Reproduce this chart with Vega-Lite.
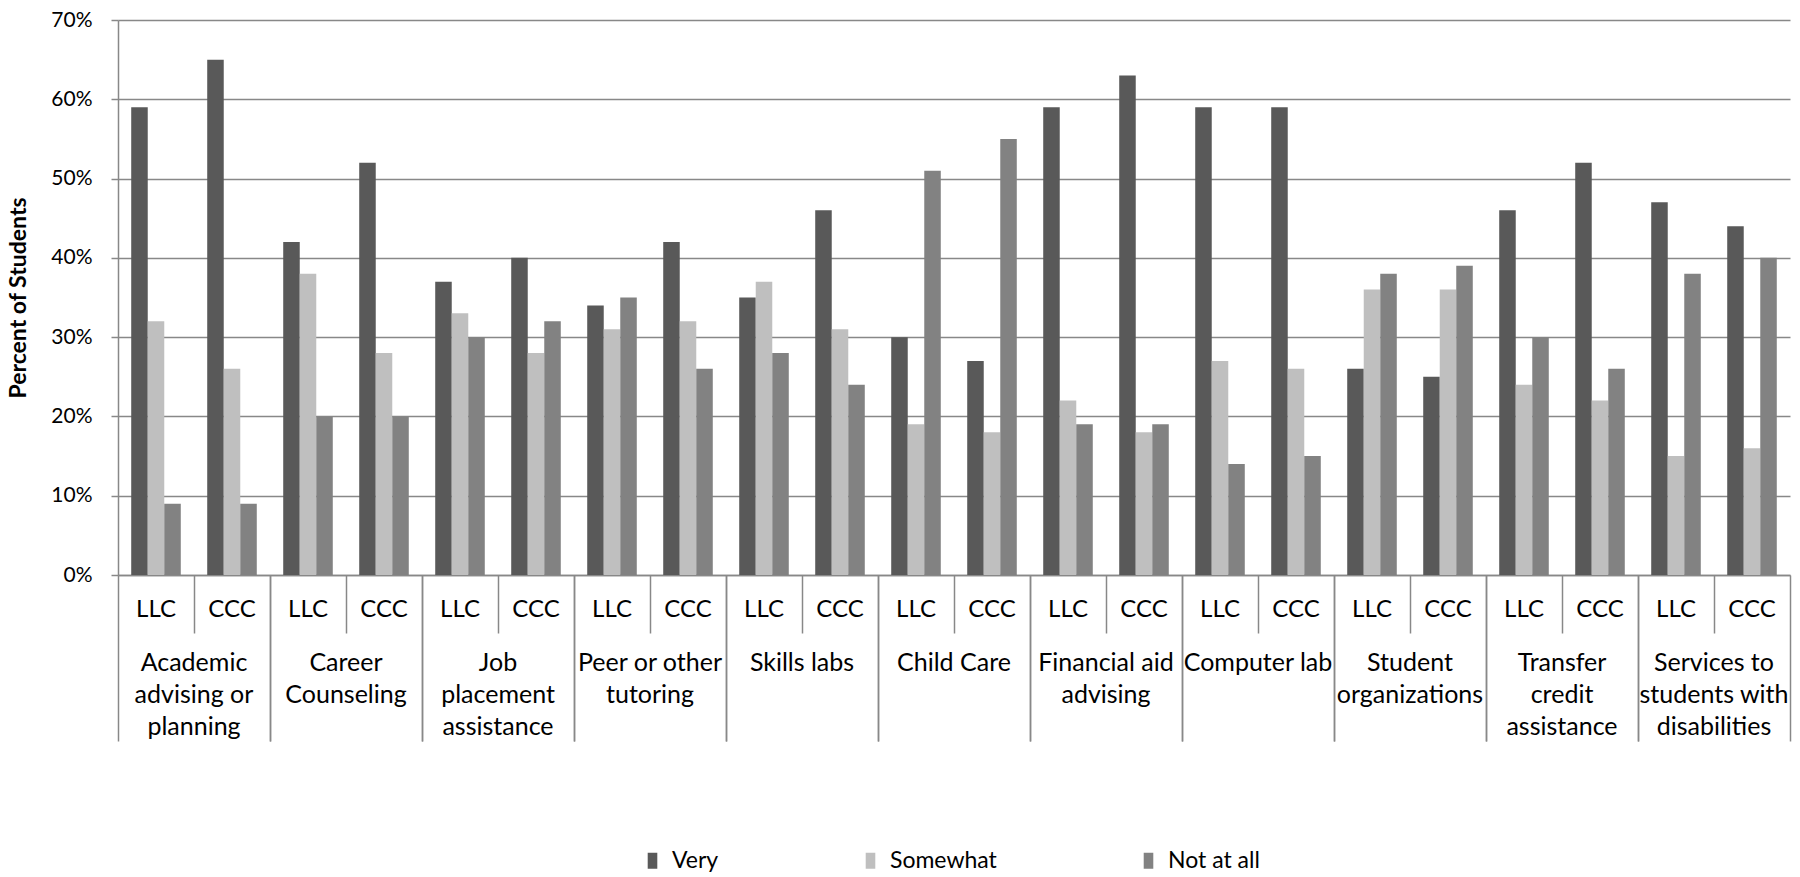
{
  "$schema": "https://vega.github.io/schema/vega-lite/v6.json",
  "width": 1672,
  "height": 555,
  "autosize": {"type": "none"},
  "padding": {"left": 118, "top": 20, "right": 10, "bottom": 302},
  "background": "white",
  "config": {"view": {"stroke": null}, "font": "Lato"},
  "data": {
    "values": [
      {"group": "Academic advising or planning|LLC", "response": "Very", "percent": 59},
      {"group": "Academic advising or planning|LLC", "response": "Somewhat", "percent": 32},
      {"group": "Academic advising or planning|LLC", "response": "Not at all", "percent": 9},
      {"group": "Academic advising or planning|CCC", "response": "Very", "percent": 65},
      {"group": "Academic advising or planning|CCC", "response": "Somewhat", "percent": 26},
      {"group": "Academic advising or planning|CCC", "response": "Not at all", "percent": 9},
      {"group": "Career Counseling|LLC", "response": "Very", "percent": 42},
      {"group": "Career Counseling|LLC", "response": "Somewhat", "percent": 38},
      {"group": "Career Counseling|LLC", "response": "Not at all", "percent": 20},
      {"group": "Career Counseling|CCC", "response": "Very", "percent": 52},
      {"group": "Career Counseling|CCC", "response": "Somewhat", "percent": 28},
      {"group": "Career Counseling|CCC", "response": "Not at all", "percent": 20},
      {"group": "Job placement assistance|LLC", "response": "Very", "percent": 37},
      {"group": "Job placement assistance|LLC", "response": "Somewhat", "percent": 33},
      {"group": "Job placement assistance|LLC", "response": "Not at all", "percent": 30},
      {"group": "Job placement assistance|CCC", "response": "Very", "percent": 40},
      {"group": "Job placement assistance|CCC", "response": "Somewhat", "percent": 28},
      {"group": "Job placement assistance|CCC", "response": "Not at all", "percent": 32},
      {"group": "Peer or other tutoring|LLC", "response": "Very", "percent": 34},
      {"group": "Peer or other tutoring|LLC", "response": "Somewhat", "percent": 31},
      {"group": "Peer or other tutoring|LLC", "response": "Not at all", "percent": 35},
      {"group": "Peer or other tutoring|CCC", "response": "Very", "percent": 42},
      {"group": "Peer or other tutoring|CCC", "response": "Somewhat", "percent": 32},
      {"group": "Peer or other tutoring|CCC", "response": "Not at all", "percent": 26},
      {"group": "Skills labs|LLC", "response": "Very", "percent": 35},
      {"group": "Skills labs|LLC", "response": "Somewhat", "percent": 37},
      {"group": "Skills labs|LLC", "response": "Not at all", "percent": 28},
      {"group": "Skills labs|CCC", "response": "Very", "percent": 46},
      {"group": "Skills labs|CCC", "response": "Somewhat", "percent": 31},
      {"group": "Skills labs|CCC", "response": "Not at all", "percent": 24},
      {"group": "Child Care|LLC", "response": "Very", "percent": 30},
      {"group": "Child Care|LLC", "response": "Somewhat", "percent": 19},
      {"group": "Child Care|LLC", "response": "Not at all", "percent": 51},
      {"group": "Child Care|CCC", "response": "Very", "percent": 27},
      {"group": "Child Care|CCC", "response": "Somewhat", "percent": 18},
      {"group": "Child Care|CCC", "response": "Not at all", "percent": 55},
      {"group": "Financial aid advising|LLC", "response": "Very", "percent": 59},
      {"group": "Financial aid advising|LLC", "response": "Somewhat", "percent": 22},
      {"group": "Financial aid advising|LLC", "response": "Not at all", "percent": 19},
      {"group": "Financial aid advising|CCC", "response": "Very", "percent": 63},
      {"group": "Financial aid advising|CCC", "response": "Somewhat", "percent": 18},
      {"group": "Financial aid advising|CCC", "response": "Not at all", "percent": 19},
      {"group": "Computer lab|LLC", "response": "Very", "percent": 59},
      {"group": "Computer lab|LLC", "response": "Somewhat", "percent": 27},
      {"group": "Computer lab|LLC", "response": "Not at all", "percent": 14},
      {"group": "Computer lab|CCC", "response": "Very", "percent": 59},
      {"group": "Computer lab|CCC", "response": "Somewhat", "percent": 26},
      {"group": "Computer lab|CCC", "response": "Not at all", "percent": 15},
      {"group": "Student organizations|LLC", "response": "Very", "percent": 26},
      {"group": "Student organizations|LLC", "response": "Somewhat", "percent": 36},
      {"group": "Student organizations|LLC", "response": "Not at all", "percent": 38},
      {"group": "Student organizations|CCC", "response": "Very", "percent": 25},
      {"group": "Student organizations|CCC", "response": "Somewhat", "percent": 36},
      {"group": "Student organizations|CCC", "response": "Not at all", "percent": 39},
      {"group": "Transfer credit assistance|LLC", "response": "Very", "percent": 46},
      {"group": "Transfer credit assistance|LLC", "response": "Somewhat", "percent": 24},
      {"group": "Transfer credit assistance|LLC", "response": "Not at all", "percent": 30},
      {"group": "Transfer credit assistance|CCC", "response": "Very", "percent": 52},
      {"group": "Transfer credit assistance|CCC", "response": "Somewhat", "percent": 22},
      {"group": "Transfer credit assistance|CCC", "response": "Not at all", "percent": 26},
      {"group": "Services to students with disabilities|LLC", "response": "Very", "percent": 47},
      {"group": "Services to students with disabilities|LLC", "response": "Somewhat", "percent": 15},
      {"group": "Services to students with disabilities|LLC", "response": "Not at all", "percent": 38},
      {"group": "Services to students with disabilities|CCC", "response": "Very", "percent": 44},
      {"group": "Services to students with disabilities|CCC", "response": "Somewhat", "percent": 16},
      {"group": "Services to students with disabilities|CCC", "response": "Not at all", "percent": 40}
    ]
  },
  "layer": [
    {
      "mark": {"type": "bar"},
      "encoding": {
        "x": {
          "field": "group", "type": "nominal", "sort": null,
          "scale": {"paddingInner": 0, "paddingOuter": 0},
          "axis": {
            "orient": "bottom",
            "title": null, "bandPosition": 0, "domain": true, "domainColor": "#888888", "domainWidth": 1.5,
            "grid": false, "ticks": true, "tickColor": "#888888", "tickWidth": 1.5,
            "tickSize": {"condition": {"test": "indexof(datum.value, '|LLC') >= 0", "value": 166}, "value": 58},
            "labelPadding": {"condition": {"test": "indexof(datum.value, '|LLC') >= 0", "value": -144}, "value": -36},
            "labelOffset": 0,
            "labelExpr": "split(datum.value, '|')[1]",
            "labelAngle": 0, "labelFontSize": 24, "labelColor": "#000000", "labelBaseline": "top",
            "labelOverlap": false, "labelBound": false, "labelFlush": false
          }
        },
        "xOffset": {
          "field": "response", "type": "nominal", "sort": ["Very", "Somewhat", "Not at all"],
          "scale": {"paddingInner": 0, "paddingOuter": 0.8}
        },
        "y": {
          "field": "percent", "type": "quantitative",
          "scale": {"domain": [0, 70]},
          "axis": {
            "title": "Percent of Students", "values": [0, 10, 20, 30, 40, 50, 60, 70],
            "labelExpr": "datum.value + '%'",
            "grid": true, "gridColor": "#888888", "gridWidth": 1.5,
            "domainColor": "#888888", "domainWidth": 1.5,
            "tickColor": "#888888", "tickWidth": 1.5, "tickSize": 7,
            "labelPadding": 19, "labelFontSize": 21, "labelColor": "#000000",
            "titleFontSize": 23, "titleFontWeight": "bold", "titleColor": "#000000", "titlePadding": 20
          }
        },
        "color": {
          "field": "response", "type": "nominal",
          "scale": {"domain": ["Very", "Somewhat", "Not at all"], "range": ["#595959", "#bfbfbf", "#828282"]},
          "legend": {
            "title": null, "orient": "none", "legendX": 523, "legendY": 829, "direction": "horizontal",
            "symbolType": "M-0.6,-1L0.6,-1L0.6,1L-0.6,1Z", "symbolSize": 256, "symbolStrokeWidth": 0,
            "labelFontSize": 23, "labelColor": "#000000", "columnPadding": 140, "labelOffset": 8
          }
        }
      }
    },
    {
      "mark": {"type": "rule", "opacity": 0},
      "encoding": {
        "x": {
          "field": "group", "type": "nominal", "sort": null,
          "scale": {"paddingInner": 0, "paddingOuter": 0},
          "axis": {
            "orient": "bottom",
            "title": null, "bandPosition": 1, "domain": false, "grid": false,
            "ticks": true, "tickColor": "#888888", "tickWidth": 1.5,
            "tickSize": {"condition": {"test": "indexof(datum.value, '|CCC') >= 0", "value": 166}, "value": 0},
            "labelPadding": 75,
            "labelOffset": 38,
            "labelExpr": "indexof(datum.value, '|LLC') < 0 ? '' : ({'Academic advising or planning': ['Academic', 'advising or', 'planning'], 'Career Counseling': ['Career', 'Counseling'], 'Job placement assistance': ['Job', 'placement', 'assistance'], 'Peer or other tutoring': ['Peer or other', 'tutoring'], 'Skills labs': ['Skills labs'], 'Child Care': ['Child Care'], 'Financial aid advising': ['Financial aid', 'advising'], 'Computer lab': ['Computer lab'], 'Student organizations': ['Student', 'organizations'], 'Transfer credit assistance': ['Transfer', 'credit', 'assistance'], 'Services to students with disabilities': ['Services to', 'students with', 'disabilities']})[split(datum.value, '|')[0]]",
            "labelAngle": 0, "labelFontSize": 25, "labelLineHeight": 32, "labelColor": "#000000", "labelBaseline": "top",
            "labelOverlap": false, "labelBound": false, "labelFlush": false, "labelLimit": 400
          }
        }
      }
    }
  ],
  "resolve": {"axis": {"x": "independent"}}
}
